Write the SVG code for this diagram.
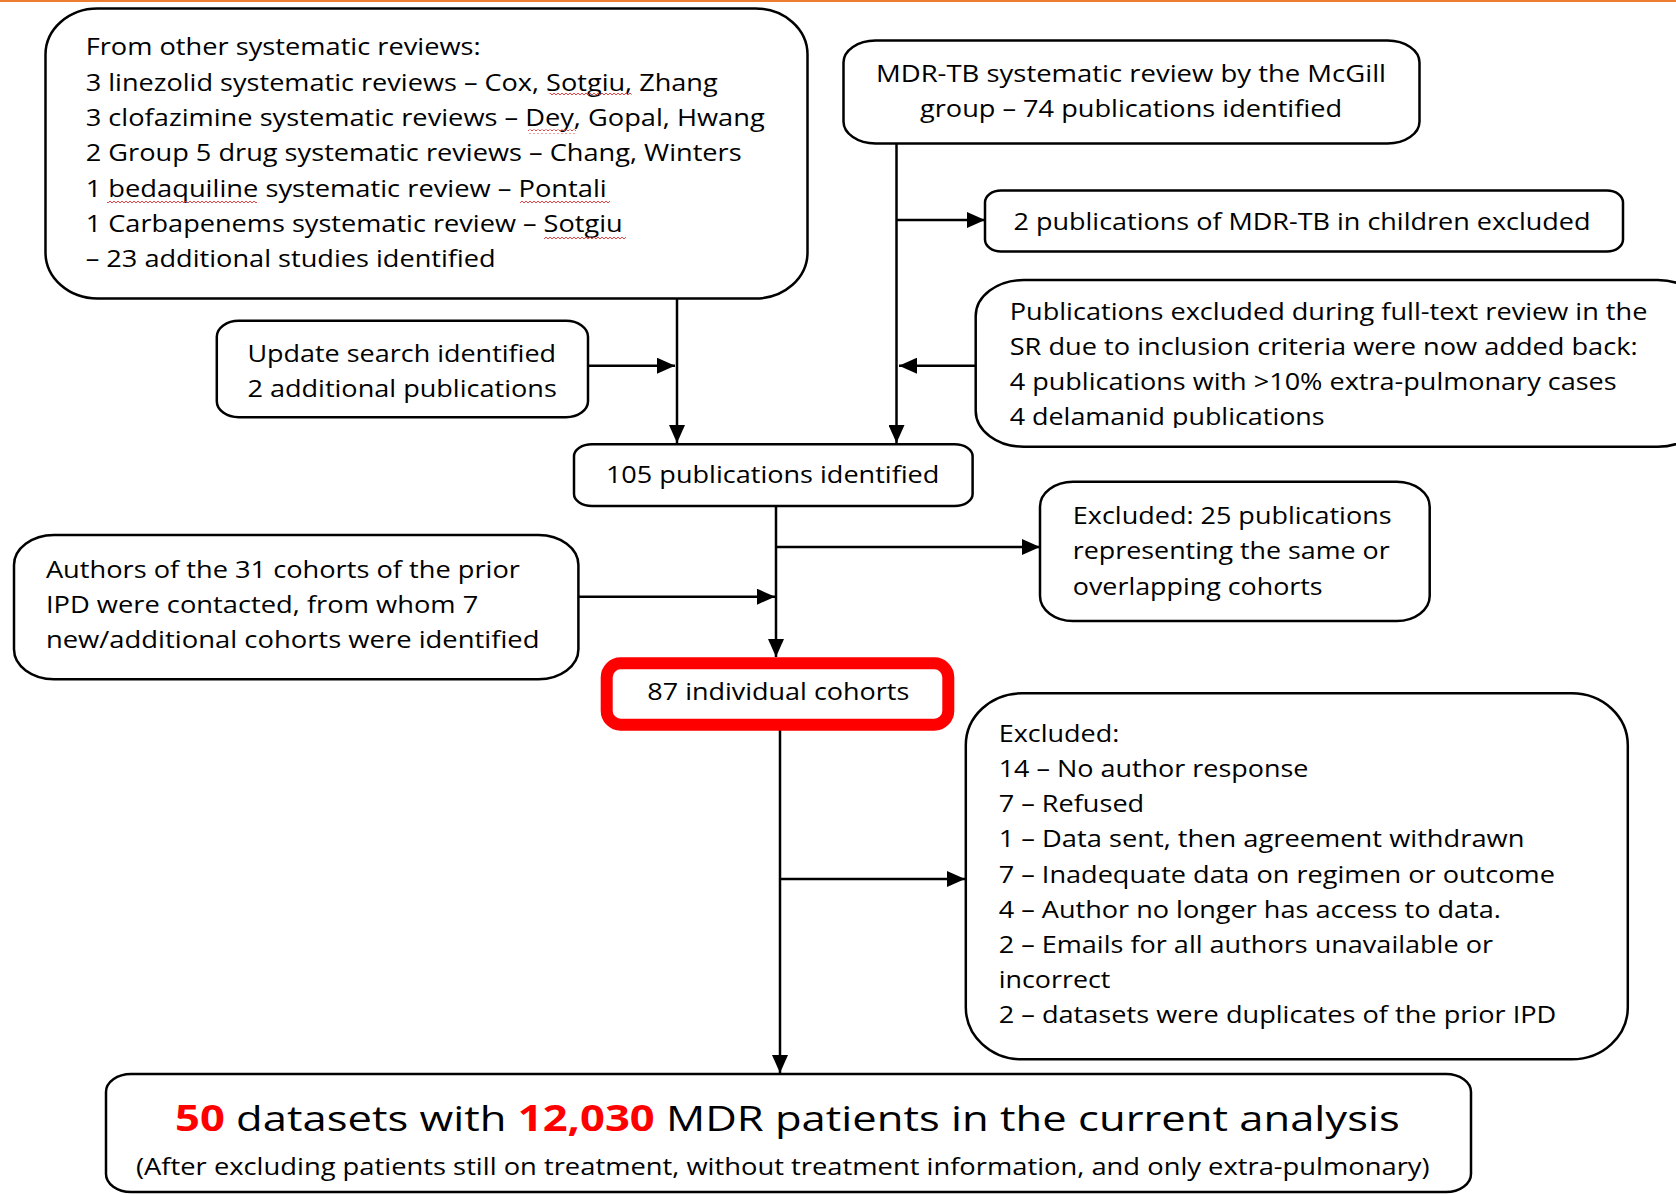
<svg xmlns="http://www.w3.org/2000/svg" width="1676" height="1194" viewBox="0 0 1676 1194">
<style>
  .box { fill: #ffffff; stroke: #000000; stroke-width: 2.5; }
  .red { fill: #ffffff; stroke: #ff0000; stroke-width: 12; }
  .t { font-family: "Open Sans", "Noto Sans", sans-serif; font-size: 24px; fill: #000000; }
  .big { font-size: 35px; }
  .hl { fill: #ff0000; font-weight: bold; }
  .conn { stroke: #000000; stroke-width: 2.5; fill: none; }
  .arr { marker-end: url(#ah); }
  .sq { fill: url(#squiggle); }
</style>
<defs>
  <marker id="ah" markerUnits="userSpaceOnUse" markerWidth="18" markerHeight="16" refX="18" refY="8" orient="auto">
    <path d="M0,0 L18,8 L0,16 z" fill="#000000"/>
  </marker>
  <pattern id="squiggle" patternUnits="userSpaceOnUse" width="4" height="4">
    <path d="M0,3 L2,1 L4,3" stroke="#e03030" stroke-width="0.9" fill="none"/>
  </pattern>
  <clipPath id="clipPubs">
    <rect x="975" y="280" width="720" height="148"/>
  </clipPath>
</defs>
<rect x="0" y="0" width="1676" height="1194" fill="#ffffff"/>
<line x1="0" y1="1" x2="1676" y2="1" stroke="#ed7d31" stroke-width="2"/>

<g id="connectors">
  <line class="conn arr" x1="677" y1="298" x2="677" y2="443"/>
  <line class="conn arr" x1="588" y1="365.7" x2="675" y2="365.7"/>
  <line class="conn arr" x1="896.5" y1="144" x2="896.5" y2="443"/>
  <line class="conn arr" x1="896.5" y1="220" x2="985" y2="220"/>
  <line class="conn arr" x1="975.7" y1="365.7" x2="899" y2="365.7"/>
  <line class="conn arr" x1="776" y1="506" x2="776" y2="657"/>
  <line class="conn arr" x1="776" y1="547" x2="1040" y2="547"/>
  <line class="conn arr" x1="578" y1="596.7" x2="775" y2="596.7"/>
  <line class="conn arr" x1="780" y1="730" x2="780" y2="1073"/>
  <line class="conn arr" x1="780" y1="879" x2="965" y2="879"/>
</g>

<g id="node-other-reviews">
  <rect class="box" x="45.5" y="8.5" width="762" height="290" rx="52" ry="46"/>
  <text class="t" x="85.7" y="55" textLength="395" lengthAdjust="spacingAndGlyphs">From other systematic reviews:</text>
  <text class="t" x="85.7" y="90.5" textLength="632" lengthAdjust="spacingAndGlyphs">3 linezolid systematic reviews – Cox, Sotgiu, Zhang</text>
  <text class="t" x="85.7" y="126" textLength="679" lengthAdjust="spacingAndGlyphs">3 clofazimine systematic reviews – Dey, Gopal, Hwang</text>
  <text class="t" x="85.7" y="161.3" textLength="656" lengthAdjust="spacingAndGlyphs">2 Group 5 drug systematic reviews – Chang, Winters</text>
  <text class="t" x="85.7" y="196.6" textLength="521" lengthAdjust="spacingAndGlyphs">1 bedaquiline systematic review – Pontali</text>
  <text class="t" x="85.7" y="232" textLength="537" lengthAdjust="spacingAndGlyphs">1 Carbapenems systematic review – Sotgiu</text>
  <text class="t" x="85.7" y="267.3" textLength="410" lengthAdjust="spacingAndGlyphs">– 23 additional studies identified</text>
  <rect class="sq" x="549.6" y="93" width="82" height="4"/>
  <rect class="sq" x="528" y="129.5" width="48" height="4"/>
  <rect class="sq" x="107" y="199.7" width="150" height="4"/>
  <rect class="sq" x="520" y="199.7" width="90" height="4"/>
  <rect class="sq" x="544" y="235.3" width="82" height="4"/>
</g>

<g id="node-mcgill">
  <rect class="box" x="843.5" y="40.5" width="576" height="103" rx="32" ry="22"/>
  <text class="t" x="1131" y="82" text-anchor="middle" textLength="510" lengthAdjust="spacingAndGlyphs">MDR-TB systematic review by the McGill</text>
  <text class="t" x="1131" y="117" text-anchor="middle" textLength="422" lengthAdjust="spacingAndGlyphs">group – 74 publications identified</text>
</g>

<g id="node-children">
  <rect class="box" x="985" y="190.5" width="638" height="61" rx="16" ry="12"/>
  <text class="t" x="1302" y="230" text-anchor="middle" textLength="577" lengthAdjust="spacingAndGlyphs">2 publications of MDR-TB in children excluded</text>
</g>

<g id="node-added-back">
  <rect class="box" x="975.7" y="280" width="730" height="166.7" rx="48" ry="36"/>
  <g clip-path="url(#clipPubs)">
    <text class="t" x="1009.7" y="320" textLength="637.7" lengthAdjust="spacingAndGlyphs">Publications excluded during full-text review in the</text>
    <text class="t" x="1009.7" y="355" textLength="628" lengthAdjust="spacingAndGlyphs">SR due to inclusion criteria were now added back:</text>
    <text class="t" x="1009.7" y="390" textLength="607" lengthAdjust="spacingAndGlyphs">4 publications with &gt;10% extra-pulmonary cases</text>
    <text class="t" x="1009.7" y="425" textLength="315" lengthAdjust="spacingAndGlyphs">4 delamanid publications</text>
  </g>
</g>

<g id="node-update">
  <rect class="box" x="216.8" y="320.7" width="371.2" height="96.6" rx="22" ry="16"/>
  <text class="t" x="247.4" y="361.7" textLength="308.7" lengthAdjust="spacingAndGlyphs">Update search identified</text>
  <text class="t" x="247.4" y="397.3" textLength="309.4" lengthAdjust="spacingAndGlyphs">2 additional publications</text>
</g>

<g id="node-105">
  <rect class="box" x="574" y="444.3" width="398.6" height="61.7" rx="18" ry="12"/>
  <text class="t" x="605.9" y="483.3" textLength="333.5" lengthAdjust="spacingAndGlyphs">105 publications identified</text>
</g>

<g id="node-authors">
  <rect class="box" x="14" y="535" width="564.4" height="144.3" rx="40" ry="30"/>
  <text class="t" x="45.9" y="577.7" textLength="474" lengthAdjust="spacingAndGlyphs">Authors of the 31 cohorts of the prior</text>
  <text class="t" x="45.9" y="613.3" textLength="432.4" lengthAdjust="spacingAndGlyphs">IPD were contacted, from whom 7</text>
  <text class="t" x="45.9" y="648.3" textLength="493.6" lengthAdjust="spacingAndGlyphs">new/additional cohorts were identified</text>
</g>

<g id="node-excluded-25">
  <rect class="box" x="1040" y="481.7" width="389.7" height="139.3" rx="33" ry="25"/>
  <text class="t" x="1072.8" y="524" textLength="318.8" lengthAdjust="spacingAndGlyphs">Excluded: 25 publications</text>
  <text class="t" x="1072.8" y="559.3" textLength="316.9" lengthAdjust="spacingAndGlyphs">representing the same or</text>
  <text class="t" x="1072.8" y="595" textLength="249.8" lengthAdjust="spacingAndGlyphs">overlapping cohorts</text>
</g>

<g id="node-87">
  <rect class="red" x="606.7" y="663.3" width="341.6" height="61.4" rx="14" ry="14"/>
  <text class="t" x="647.3" y="700" textLength="262" lengthAdjust="spacingAndGlyphs">87 individual cohorts</text>
</g>

<g id="node-excluded-list">
  <rect class="box" x="965.8" y="693.3" width="662" height="366" rx="56" ry="52"/>
  <text class="t" x="998.7" y="741.7" textLength="120.6" lengthAdjust="spacingAndGlyphs">Excluded:</text>
  <text class="t" x="998.7" y="776.9" textLength="309.8" lengthAdjust="spacingAndGlyphs">14 – No author response</text>
  <text class="t" x="998.7" y="812.1" textLength="145.5" lengthAdjust="spacingAndGlyphs">7 – Refused</text>
  <text class="t" x="998.7" y="847.3" textLength="525.7" lengthAdjust="spacingAndGlyphs">1 – Data sent, then agreement withdrawn</text>
  <text class="t" x="998.7" y="882.5" textLength="556.2" lengthAdjust="spacingAndGlyphs">7 – Inadequate data on regimen or outcome</text>
  <text class="t" x="998.7" y="917.7" textLength="502.2" lengthAdjust="spacingAndGlyphs">4 – Author no longer has access to data.</text>
  <text class="t" x="998.7" y="952.9" textLength="494.3" lengthAdjust="spacingAndGlyphs">2 – Emails for all authors unavailable or</text>
  <text class="t" x="998.7" y="988.1" textLength="111.7" lengthAdjust="spacingAndGlyphs">incorrect</text>
  <text class="t" x="998.7" y="1023.3" textLength="557.6" lengthAdjust="spacingAndGlyphs">2 – datasets were duplicates of the prior IPD</text>
</g>

<g id="node-final">
  <rect class="box" x="106" y="1074" width="1365" height="118" rx="25" ry="18"/>
  <text class="t big" x="175" y="1131" textLength="1224.7" lengthAdjust="spacingAndGlyphs"><tspan class="hl">50</tspan> datasets with <tspan class="hl">12,030</tspan> MDR patients in the current analysis</text>
  <text class="t" x="136" y="1175" textLength="1293.6" lengthAdjust="spacingAndGlyphs">(After excluding patients still on treatment, without treatment information, and only extra-pulmonary)</text>
</g>
</svg>
